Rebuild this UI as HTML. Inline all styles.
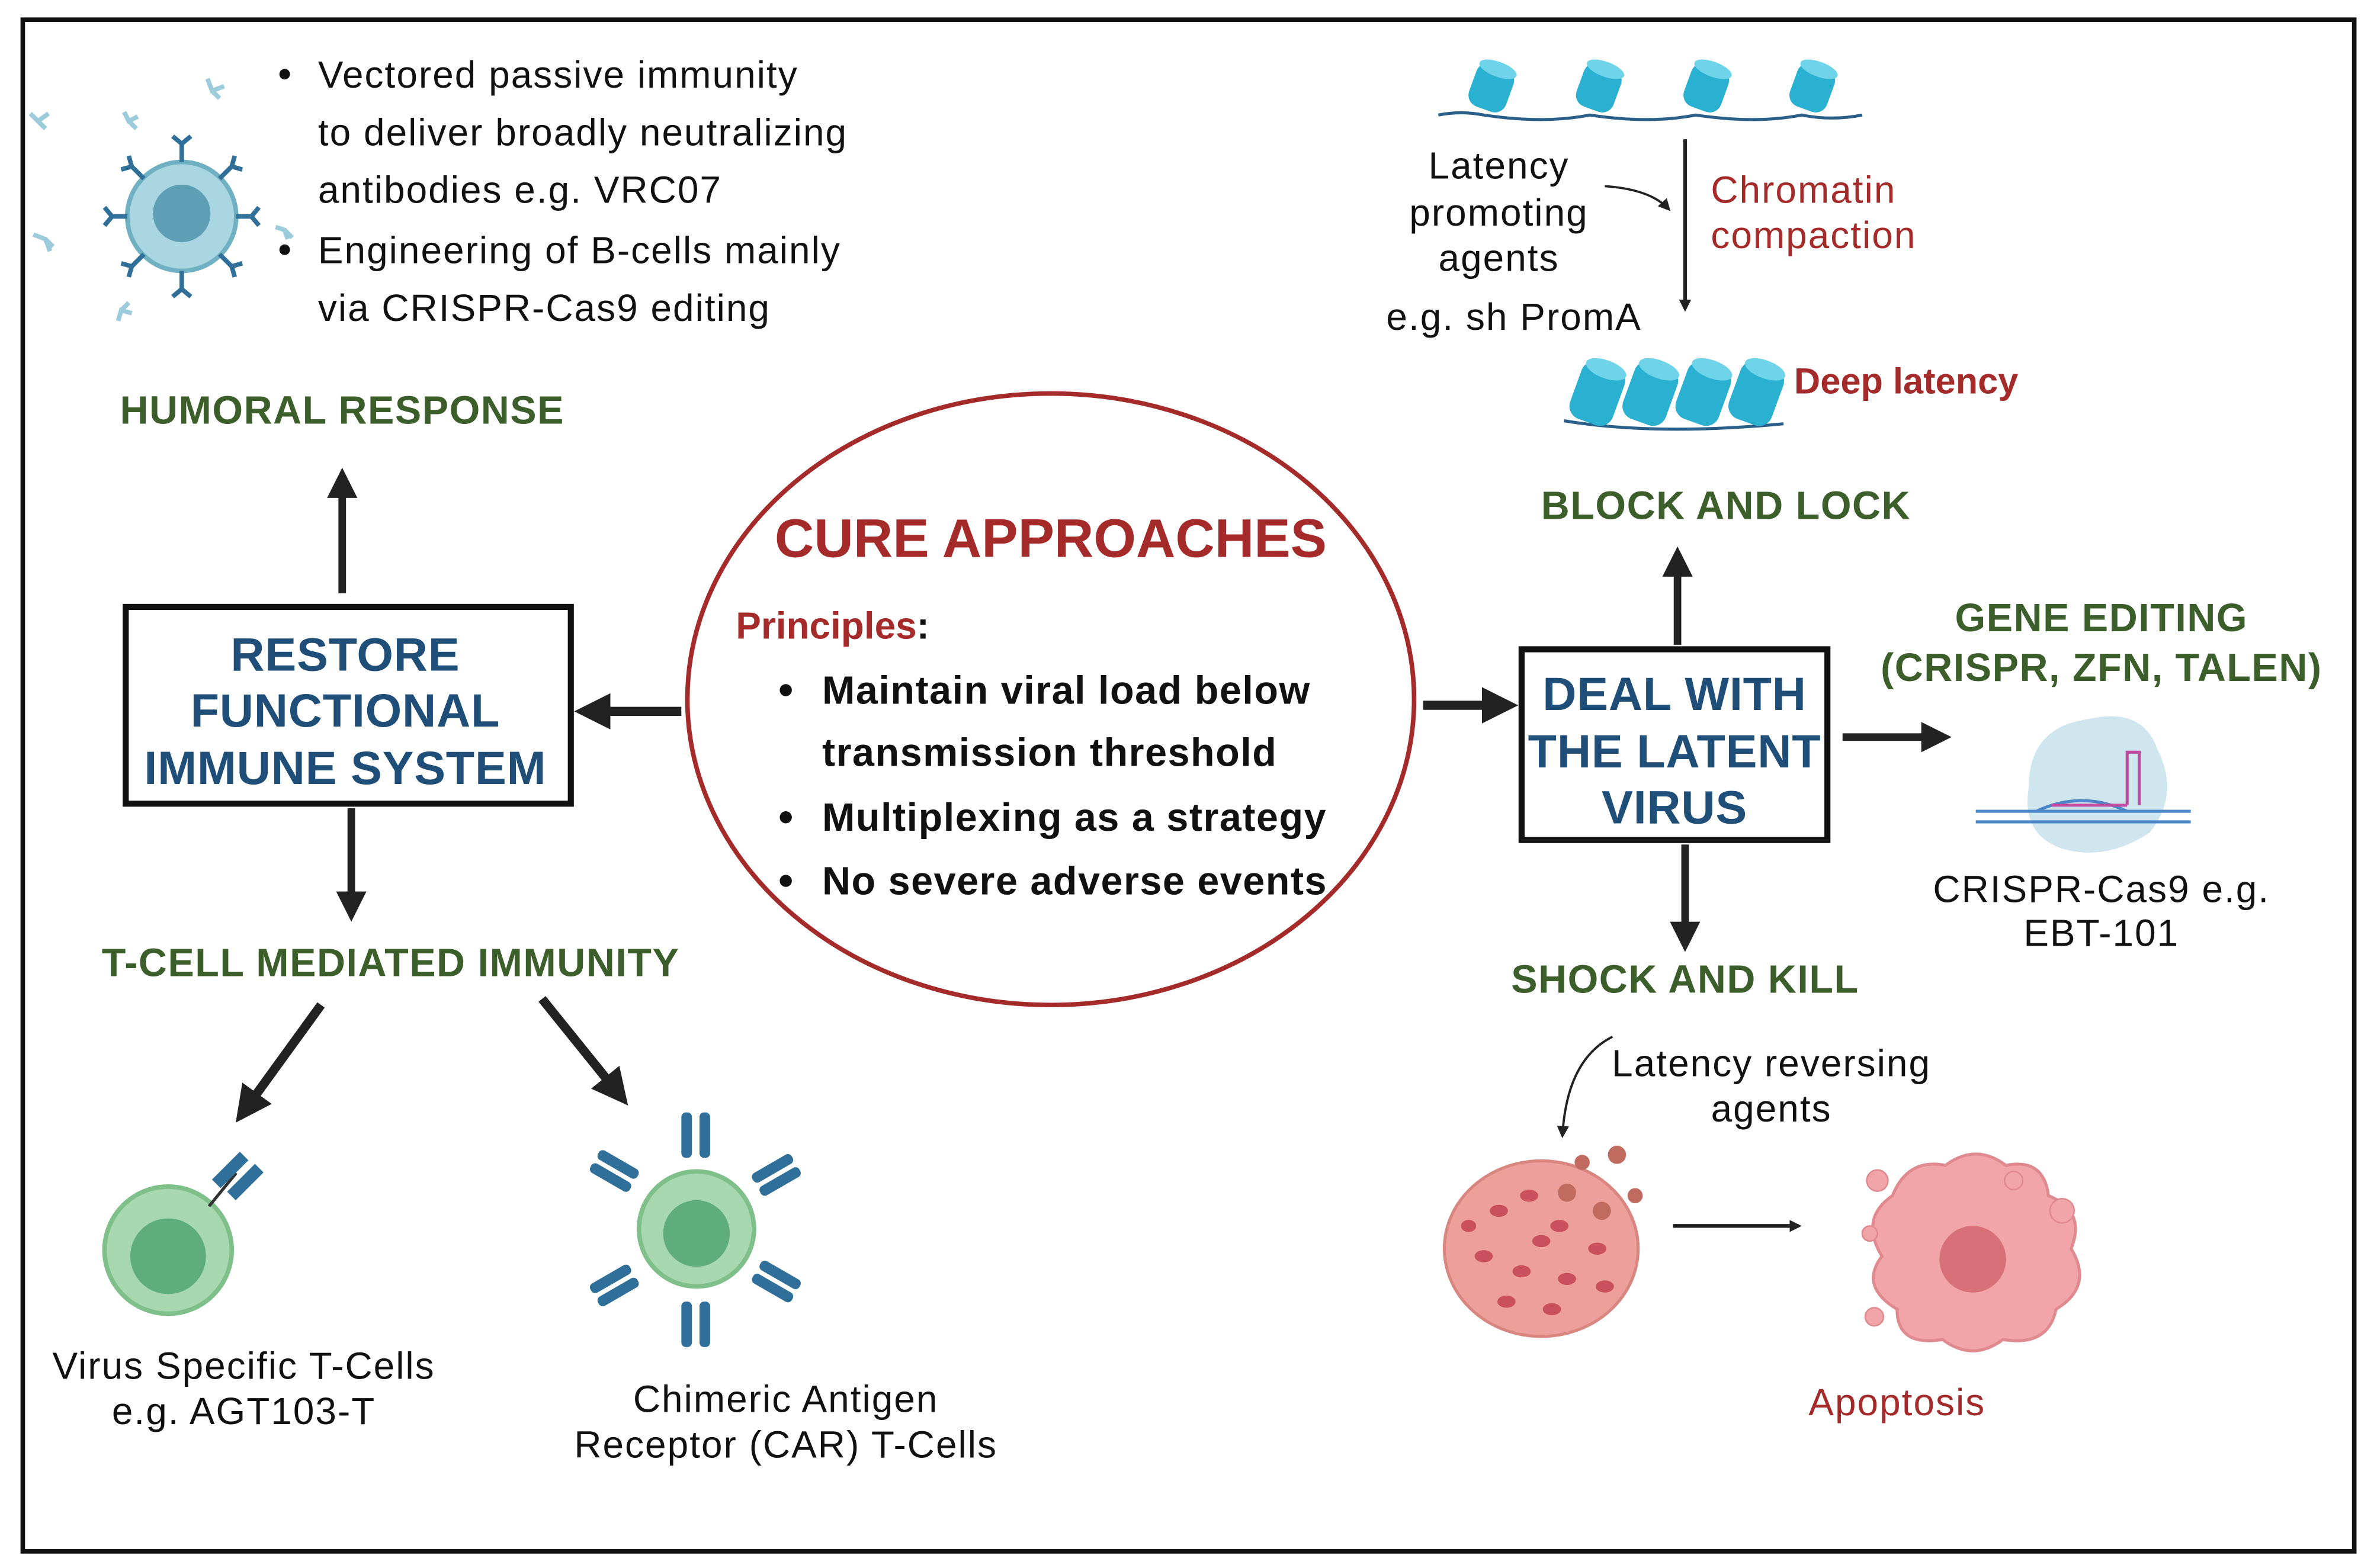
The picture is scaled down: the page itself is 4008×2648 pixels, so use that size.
<!DOCTYPE html>
<html><head><meta charset="utf-8"><style>
html,body{margin:0;padding:0;background:#fff;}
svg{display:block;}
text{font-family:"Liberation Sans",sans-serif;}
.g{fill:#3b5e2b;font-weight:bold;font-size:26px;letter-spacing:0.6px;}
.b{fill:#1f4e79;font-weight:bold;font-size:31px;letter-spacing:0.3px;}
.n{fill:#111;font-size:25px;letter-spacing:0.8px;}
.r{fill:#a52a2a;}
.rn{fill:#a52a2a;font-size:25px;letter-spacing:0.8px;}
</style></head><body>
<svg width="4008" height="2648" viewBox="0 0 1568 1036" xmlns="http://www.w3.org/2000/svg">
<defs>
<marker id="ah" markerWidth="4" markerHeight="4" refX="2.2" refY="2" orient="auto" markerUnits="strokeWidth"><path d="M0,0 L4,2 L0,4 z" fill="#222"/></marker>
<marker id="as" markerWidth="8" markerHeight="8" refX="6" refY="4" orient="auto" markerUnits="userSpaceOnUse"><path d="M0,0 L8,4 L0,8 z" fill="#222"/></marker>
</defs>
<rect x="0" y="0" width="1568" height="1036" fill="#fff"/>
<rect x="15" y="13" width="1540" height="1012" fill="none" stroke="#111" stroke-width="3"/>

<g>
<circle cx="120" cy="143" r="36" fill="#a9d6e0" stroke="#6fb0c2" stroke-width="3"/>
<circle cx="120" cy="141" r="19" fill="#5e9fb5"/>
<g stroke="#2f6f9a" stroke-width="3" fill="none">
<path d="M120,107 v-12 M114,90 l6,5 l6,-5"/>
<path d="M120,179 v12 M114,196 l6,-5 l6,5"/>
<path d="M84,143 h-10 M69,137 l5,6 l-5,6"/>
<path d="M156,143 h10 M171,137 l-5,6 l5,6"/>
<path d="M95,118 l-8,-8 M80,112 l7,-2 l-2,-7"/>
<path d="M145,118 l8,-8 M160,112 l-7,-2 l2,-7"/>
<path d="M95,168 l-8,8 M80,174 l7,2 l-2,7"/>
<path d="M145,168 l8,8 M160,174 l-7,2 l2,7"/>
</g>
<g stroke="#9ccbdc" stroke-width="3" fill="none">
<path d="M140,60 l5,5 M137,52 l3,8 l8,-3"/>
<path d="M25,80 l5,5 M20,75 l5,5 l7,-5"/>
<path d="M30,158 l5,5 M22,155 l8,3 l3,8"/>
<path d="M80,205 l5,-5 M78,212 l2,-7 l7,2"/>
<path d="M188,152 l5,5 M182,150 l6,2 l2,6"/>
<path d="M85,80 l5,5 M82,74 l3,6 l6,-3"/>
</g>
</g>
<circle cx="188" cy="49" r="3.5" fill="#111"/>
<circle cx="188" cy="165" r="3.5" fill="#111"/>
<text class="n" x="210" y="58">Vectored passive immunity</text>
<text class="n" x="210" y="96">to deliver broadly neutralizing</text>
<text class="n" x="210" y="134">antibodies e.g. VRC07</text>
<text class="n" x="210" y="174">Engineering of B-cells mainly</text>
<text class="n" x="210" y="212">via CRISPR-Cas9 editing</text>

<text class="g" x="226" y="280" text-anchor="middle">HUMORAL RESPONSE</text>
<line x1="226" y1="392" x2="226" y2="318" stroke="#222" stroke-width="5" marker-end="url(#ah)"/>

<rect x="83" y="401" width="294" height="130" fill="#fff" stroke="#111" stroke-width="4"/>
<text class="b" x="228" y="443" text-anchor="middle">RESTORE</text>
<text class="b" x="228" y="480" text-anchor="middle">FUNCTIONAL</text>
<text class="b" x="228" y="518" text-anchor="middle">IMMUNE SYSTEM</text>

<line x1="232" y1="534" x2="232" y2="600" stroke="#222" stroke-width="5" marker-end="url(#ah)"/>
<text class="g" x="258" y="645" text-anchor="middle">T-CELL MEDIATED IMMUNITY</text>
<line x1="212" y1="664" x2="162" y2="733" stroke="#222" stroke-width="6" marker-end="url(#ah)"/>
<line x1="358" y1="660" x2="408" y2="722" stroke="#222" stroke-width="6" marker-end="url(#ah)"/>

<circle cx="111" cy="826" r="42" fill="#a8d8b0" stroke="#7fbf8a" stroke-width="3"/>
<circle cx="111" cy="830" r="25" fill="#5fae7a"/>
<path d="M138,797 l18,-22" stroke="#333" stroke-width="2"/>
<rect x="148" y="760" width="8" height="26" fill="#2f6f9a" transform="rotate(45 152 773)"/>
<rect x="158" y="768" width="8" height="26" fill="#2f6f9a" transform="rotate(45 162 781)"/>
<text class="n" x="161" y="911" text-anchor="middle">Virus Specific T-Cells</text>
<text class="n" x="161" y="941" text-anchor="middle">e.g. AGT103-T</text>

<circle cx="460" cy="812" r="38" fill="#a8d8b0" stroke="#7fbf8a" stroke-width="3"/>
<circle cx="460" cy="815" r="22" fill="#5fae7a"/>
<g fill="#2f6f9a">
<rect x="450" y="735" width="7" height="30" rx="3"/><rect x="462" y="735" width="7" height="30" rx="3"/>
<rect x="450" y="860" width="7" height="30" rx="3"/><rect x="462" y="860" width="7" height="30" rx="3"/>
<g transform="rotate(-60 405 775)"><rect x="398" y="760" width="7" height="30" rx="3"/><rect x="408" y="760" width="7" height="30" rx="3"/></g>
<g transform="rotate(60 512 775)"><rect x="505" y="760" width="7" height="30" rx="3"/><rect x="515" y="760" width="7" height="30" rx="3"/></g>
<g transform="rotate(60 405 848)"><rect x="398" y="833" width="7" height="30" rx="3"/><rect x="408" y="833" width="7" height="30" rx="3"/></g>
<g transform="rotate(-60 512 848)"><rect x="505" y="833" width="7" height="30" rx="3"/><rect x="515" y="833" width="7" height="30" rx="3"/></g>
</g>
<text class="n" x="519" y="933" text-anchor="middle">Chimeric Antigen</text>
<text class="n" x="519" y="963" text-anchor="middle">Receptor (CAR) T-Cells</text>

<line x1="450" y1="470" x2="390" y2="470" stroke="#222" stroke-width="6" marker-end="url(#ah)"/>
<ellipse cx="694" cy="462" rx="240" ry="202" fill="#fff" stroke="#a52a2a" stroke-width="3"/>
<text class="r" x="694" y="368" text-anchor="middle" font-weight="bold" font-size="36">CURE APPROACHES</text>
<text x="486" y="422" font-weight="bold" font-size="25"><tspan fill="#a52a2a">Principles</tspan><tspan fill="#111">:</tspan></text>
<g font-weight="bold" font-size="26" fill="#111" letter-spacing="0.6">
<circle cx="519" cy="456" r="4"/><text x="543" y="465">Maintain viral load below</text>
<text x="543" y="506">transmission threshold</text>
<circle cx="519" cy="540" r="4"/><text x="543" y="549">Multiplexing as a strategy</text>
<circle cx="519" cy="582" r="4"/><text x="543" y="591">No severe adverse events</text>
</g>
<line x1="940" y1="466" x2="992" y2="466" stroke="#222" stroke-width="6" marker-end="url(#ah)"/>

<rect x="1005" y="429" width="202" height="126" fill="#fff" stroke="#111" stroke-width="4"/>
<text class="b" x="1106" y="469" text-anchor="middle">DEAL WITH</text>
<text class="b" x="1106" y="507" text-anchor="middle">THE LATENT</text>
<text class="b" x="1106" y="544" text-anchor="middle">VIRUS</text>

<line x1="1108" y1="426" x2="1108" y2="370" stroke="#222" stroke-width="5" marker-end="url(#ah)"/>
<text class="g" x="1140" y="343" text-anchor="middle">BLOCK AND LOCK</text>
<line x1="1113" y1="558" x2="1113" y2="620" stroke="#222" stroke-width="5" marker-end="url(#ah)"/>
<text class="g" x="1113" y="656" text-anchor="middle">SHOCK AND KILL</text>
<line x1="1217" y1="487" x2="1280" y2="487" stroke="#222" stroke-width="5" marker-end="url(#ah)"/>
<text class="g" x="1388" y="417" text-anchor="middle">GENE EDITING</text>
<text class="g" x="1388" y="450" text-anchor="middle">(CRISPR, ZFN, TALEN)</text>

<path d="M1340,520 q0,-40 40,-45 q35,-8 45,20 q15,30 -5,55 q-30,20 -60,10 q-25,-10 -20,-40z" fill="#cfe6ef"/>
<g stroke="#4a86c8" stroke-width="2">
<line x1="1305" y1="536" x2="1447" y2="536"/><line x1="1305" y1="543" x2="1447" y2="543"/>
</g>
<path d="M1345,536 q30,-14 60,0" stroke="#4a86c8" fill="none" stroke-width="2"/>
<path d="M1355,532 h50" stroke="#c04aa0" stroke-width="2"/>
<path d="M1405,532 v-35 h8 v35" stroke="#c04aa0" fill="none" stroke-width="2"/>
<text class="n" x="1388" y="596" text-anchor="middle">CRISPR-Cas9 e.g.</text>
<text class="n" x="1388" y="625" text-anchor="middle">EBT-101</text>

<path d="M950,76 q15,-3 30,0 q40,6 70,0 q40,6 70,0 q40,6 70,0 q20,4 40,0" stroke="#2a5f8a" stroke-width="2" fill="none"/>
<g>
<g transform="translate(985,58) rotate(20)"><rect x="-13" y="-15" width="26" height="30" rx="8" fill="#2ab0d0"/><ellipse cx="0" cy="-13" rx="13" ry="5" fill="#6fd3ea"/></g>
<g transform="translate(1056,58) rotate(20)"><rect x="-13" y="-15" width="26" height="30" rx="8" fill="#2ab0d0"/><ellipse cx="0" cy="-13" rx="13" ry="5" fill="#6fd3ea"/></g>
<g transform="translate(1127,58) rotate(20)"><rect x="-13" y="-15" width="26" height="30" rx="8" fill="#2ab0d0"/><ellipse cx="0" cy="-13" rx="13" ry="5" fill="#6fd3ea"/></g>
<g transform="translate(1197,58) rotate(20)"><rect x="-13" y="-15" width="26" height="30" rx="8" fill="#2ab0d0"/><ellipse cx="0" cy="-13" rx="13" ry="5" fill="#6fd3ea"/></g>
</g>
<line x1="1113" y1="92" x2="1113" y2="204" stroke="#222" stroke-width="2.5" marker-end="url(#as)"/>
<path d="M1060,123 q30,2 42,15" stroke="#222" stroke-width="1.5" fill="none" marker-end="url(#as)"/>
<text class="n" x="990" y="118" text-anchor="middle">Latency</text>
<text class="n" x="990" y="149" text-anchor="middle">promoting</text>
<text class="n" x="990" y="179" text-anchor="middle">agents</text>
<text class="n" x="1000" y="218" text-anchor="middle">e.g. sh PromA</text>
<text class="rn" x="1130" y="134">Chromatin</text>
<text class="rn" x="1130" y="164">compaction</text>

<path d="M1033,278 q60,10 145,2" stroke="#2a5f8a" stroke-width="2" fill="none"/>
<g>
<g transform="translate(1055,260) rotate(20)"><rect x="-15" y="-20" width="30" height="40" rx="9" fill="#2ab0d0"/><ellipse cx="0" cy="-17" rx="14" ry="6" fill="#6fd3ea"/></g>
<g transform="translate(1090,260) rotate(20)"><rect x="-15" y="-20" width="30" height="40" rx="9" fill="#2ab0d0"/><ellipse cx="0" cy="-17" rx="14" ry="6" fill="#6fd3ea"/></g>
<g transform="translate(1125,260) rotate(20)"><rect x="-15" y="-20" width="30" height="40" rx="9" fill="#2ab0d0"/><ellipse cx="0" cy="-17" rx="14" ry="6" fill="#6fd3ea"/></g>
<g transform="translate(1160,260) rotate(20)"><rect x="-15" y="-20" width="30" height="40" rx="9" fill="#2ab0d0"/><ellipse cx="0" cy="-17" rx="14" ry="6" fill="#6fd3ea"/></g>
</g>
<text class="r" x="1185" y="260" font-size="24" font-weight="bold">Deep latency</text>

<text class="n" x="1170" y="711" text-anchor="middle">Latency reversing</text>
<text class="n" x="1170" y="741" text-anchor="middle">agents</text>
<path d="M1065,685 q-30,15 -33,65" stroke="#222" stroke-width="1.5" fill="none" marker-end="url(#as)"/>
<ellipse cx="1018" cy="825" rx="64" ry="58" fill="#ec9f9b" stroke="#d98580" stroke-width="2"/>
<g fill="#c9505c">
<ellipse cx="990" cy="800" rx="6" ry="4"/><ellipse cx="1010" cy="790" rx="6" ry="4"/><ellipse cx="1030" cy="810" rx="6" ry="4"/>
<ellipse cx="980" cy="830" rx="6" ry="4"/><ellipse cx="1005" cy="840" rx="6" ry="4"/><ellipse cx="1035" cy="845" rx="6" ry="4"/>
<ellipse cx="1055" cy="825" rx="6" ry="4"/><ellipse cx="995" cy="860" rx="6" ry="4"/><ellipse cx="1025" cy="865" rx="6" ry="4"/>
<ellipse cx="1060" cy="850" rx="6" ry="4"/><ellipse cx="970" cy="810" rx="5" ry="4"/><ellipse cx="1018" cy="820" rx="6" ry="4"/>
</g>
<g fill="#c06a60"><circle cx="1068" cy="763" r="6"/><circle cx="1045" cy="768" r="5"/><circle cx="1080" cy="790" r="5"/><circle cx="1058" cy="800" r="6"/><circle cx="1035" cy="788" r="6"/></g>
<line x1="1105" y1="810" x2="1188" y2="810" stroke="#222" stroke-width="2.5" marker-end="url(#as)"/>
<path d="M1250,790 q10,-25 35,-20 q20,-15 40,0 q25,-5 28,20 q25,10 15,35 q15,25 -10,40 q-5,25 -35,20 q-20,15 -40,0 q-30,5 -30,-20 q-25,-15 -10,-35 q-15,-25 7,-40z" fill="#f2a5a8" stroke="#e08a90" stroke-width="2"/>
<circle cx="1303" cy="832" r="22" fill="#d77077"/>
<g fill="#f2a5a8" stroke="#e08a90"><circle cx="1240" cy="780" r="7"/><circle cx="1362" cy="800" r="8"/><circle cx="1238" cy="870" r="6"/><circle cx="1330" cy="780" r="6"/><circle cx="1235" cy="815" r="5"/></g>
<text class="rn" x="1253" y="935" text-anchor="middle">Apoptosis</text>
</svg>
</body></html>
